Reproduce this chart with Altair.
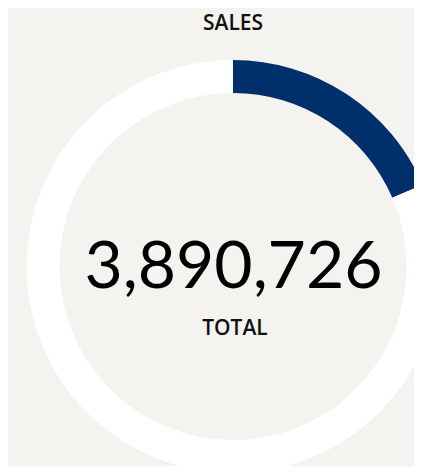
import altair as alt
import pandas as pd

# Data
categories = ["Sales", "Remaining"]
values = [3890726, 17109274]
colors = ["#00306b", "#ffffff"]
title_text = "SALES"
total_label = "TOTAL"
total_value = 3890726

arc_df = pd.DataFrame({"category": categories, "value": values, "order": [0, 1]})
num_df = pd.DataFrame({"total": [total_value]})

cx, cy = 225, 258.5

ring = alt.Chart(arc_df).mark_arc(outerRadius=206.5, innerRadius=173.5).encode(
    theta=alt.Theta("value:Q", stack=True),
    order=alt.Order("order:Q"),
    color=alt.Color("category:N", scale=alt.Scale(domain=categories, range=colors), legend=None),
    x=alt.value(cx),
    y=alt.value(cy),
)

number = alt.Chart(num_df).mark_text(
    font="Lato", fontSize=66, fontWeight=400, color="#000000", baseline="alphabetic", align="center"
).encode(
    text=alt.Text("total:Q", format=","),
    x=alt.value(225.5),
    y=alt.value(280),
)

total_txt = alt.Chart(num_df).mark_text(
    font="Open Sans", fontSize=21, fontWeight=600, color="#111111", baseline="alphabetic", align="center"
).encode(
    text=alt.value(total_label),
    x=alt.value(227),
    y=alt.value(327),
)

title_txt = alt.Chart(num_df).mark_text(
    font="Open Sans", fontSize=21, fontWeight=600, color="#111111", baseline="alphabetic",
    align="center"
).encode(
    text=alt.value(title_text),
    x=alt.value(225),
    y=alt.value(22),
)

chart = alt.layer(ring, number, total_txt, title_txt).properties(
    width=406, height=458, padding=0, autosize=alt.AutoSizeParams(type="none"),
    background="#f4f3f0",
).configure_view(stroke=None)

chart.save("out.html", embed_options={"renderer": "svg", "actions": False})
